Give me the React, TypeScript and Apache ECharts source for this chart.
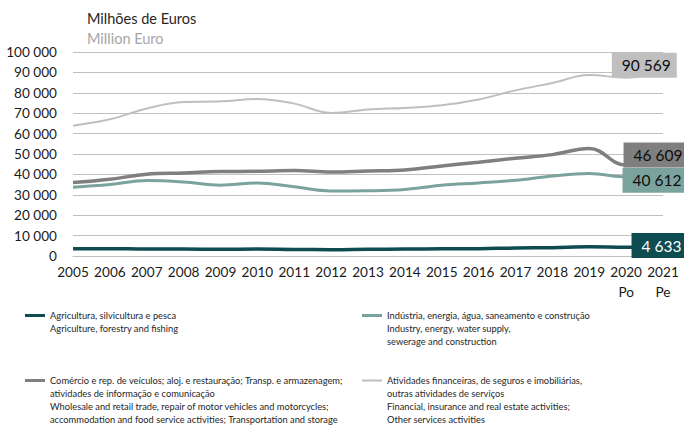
import React, { useEffect, useRef } from "react";
import * as echarts from "echarts";

const years = ["2005", "2006", "2007", "2008", "2009", "2010", "2011", "2012", "2013", "2014", "2015", "2016", "2017", "2018", "2019", "2020", "2021"];
const agriculture = [3500, 3600, 3400, 3400, 3300, 3400, 3200, 3100, 3300, 3400, 3500, 3600, 3900, 4100, 4500, 4300, 4633];
const industry = [33700, 35000, 37000, 36300, 34700, 35800, 33900, 31900, 32000, 32600, 34700, 35800, 37100, 39200, 40400, 38800, 40612];
const trade = [36000, 37600, 40100, 40700, 41400, 41500, 41900, 41200, 41700, 42200, 44100, 46000, 47900, 49700, 52700, 44500, 46609];
const financial = [63900, 67000, 72300, 75500, 75800, 77000, 74700, 70100, 71800, 72600, 73900, 76700, 81200, 84800, 88700, 87400, 90569];

const seriesNames = [
  "Agricultura, silvicultura e pesca",
  "Indústria, energia, água, saneamento e construção",
  "Comércio e rep. de veículos; aloj. e restauração; Transp. e armazenagem;",
  "Atividades financeiras, de seguros e imobiliárias,",
];
const legendTexts = [
  "Agricultura, silvicultura e pesca\nAgriculture, forestry and fishing",
  "Indústria, energia, água, saneamento e construção\nIndustry, energy, water supply,\nsewerage and construction",
  "Comércio e rep. de veículos; aloj. e restauração; Transp. e armazenagem;\natividades de informação e comunicação\nWholesale and retail trade, repair of motor vehicles and motorcycles;\naccommodation and food service activities; Transportation and storage",
  "Atividades financeiras, de seguros e imobiliárias,\noutras atividades de serviços\nFinancial, insurance and real estate activities;\nOther services activities",
];
const colors = ["#0f4c52", "#7ba39e", "#7f7f7f", "#bfbfbf"];
const titleText = "Milhões de Euros";
const subtitleText = "Million Euro";

const FONT = 'Lato, "Noto Sans", sans-serif';

const fmt = (v: number) => String(v).replace(/\B(?=(\d{3})+(?!\d))/g, " ");

function withLastLabel(values: number[], bg: string, textColor: string, offset: number[]) {
  return values.map((v, i) =>
    i === values.length - 1
      ? {
          value: v,
          symbol: "circle",
          symbolSize: 1,
          label: {
            show: true,
            position: "inside",
            offset,
            formatter: fmt(v),
            backgroundColor: bg,
            color: textColor,
            padding: [3, 6, 3, 10],
            fontSize: 15.5,
            lineHeight: 19,
            fontFamily: FONT,
          },
        }
      : v
  );
}

export default function App() {
  const ref = useRef<HTMLDivElement>(null);
  useEffect(() => {
    if (!ref.current) return;
    const chart = echarts.init(ref.current, undefined, { renderer: "svg" });
    const lh = 13;
    const lineCounts = legendTexts.map((t) => t.split("\n").length);
    const centers = [315.5, 315.5, 380.5, 380.5];
    const lefts = [25, 362, 25, 362];
    const legends = seriesNames.map((name, i) => ({
      data: [name],
      left: lefts[i],
      top: centers[i] - ((2 * lineCounts[i] - 1) * lh) / 2,
      padding: 0,
      orient: "horizontal",
      selectedMode: false,
      icon: "rect",
      itemWidth: 20,
      itemHeight: i === 3 ? 2 : 3,
      formatter: () => "\n".repeat(lineCounts[i] - 1) + legendTexts[i],
      textStyle: {
        fontFamily: FONT,
        fontSize: 9.3,
        lineHeight: lh,
        color: "#262626",
      },
    }));
    const option: any = {
      animation: false,
      title: [
        {
          text: titleText,
          left: 87,
          top: 9,
          padding: 0,
          textStyle: { fontFamily: FONT, fontSize: 14.5, fontWeight: "normal", color: "#262626", lineHeight: 18 },
        },
        {
          text: subtitleText,
          left: 87,
          top: 29,
          padding: 0,
          textStyle: { fontFamily: FONT, fontSize: 14.5, fontWeight: "normal", color: "#a6a6a6", lineHeight: 18 },
        },
      ],
      legend: legends,
      grid: { left: 73, right: 21, top: 52, bottom: 172, containLabel: false },
      xAxis: {
        type: "category",
        data: years,
        boundaryGap: false,
        axisTick: { show: false },
        axisLine: { show: true, lineStyle: { color: "#c0c0c0", width: 1 } },
        axisLabel: {
          interval: 0,
          margin: 8,
          formatter: (v: string) =>
            v === "2020" ? "{a|2020}\n{b|Po}" : v === "2021" ? "{a|2021}\n{b|Pe}" : "{a|" + v + "}",
          rich: {
            a: { fontFamily: FONT, fontSize: 13.6, lineHeight: 16, color: "#1a1a1a" },
            b: { fontFamily: FONT, fontSize: 13.6, lineHeight: 24, color: "#1a1a1a" },
          },
        },
      },
      yAxis: {
        type: "value",
        min: 0,
        max: 100000,
        interval: 10000,
        axisLine: { show: false },
        axisTick: { show: false },
        splitLine: { lineStyle: { color: "#c0c0c0", width: 1 } },
        axisLabel: {
          margin: 16,
          fontFamily: FONT,
          fontSize: 13.6,
          color: "#1a1a1a",
          formatter: (v: number) => fmt(v),
        },
      },
      series: [
        {
          name: seriesNames[0],
          type: "line",
          smooth: 0.4,
          symbol: "none",
          showSymbol: true,
          color: colors[0],
          lineStyle: { width: 3.5, color: colors[0] },
          data: withLastLabel(agriculture, colors[0], "#ffffff", [-3.5, -1]),
        },
        {
          name: seriesNames[1],
          type: "line",
          smooth: 0.4,
          symbol: "none",
          showSymbol: true,
          color: colors[1],
          lineStyle: { width: 3, color: colors[1] },
          data: withLastLabel(industry, colors[1], "#0d0d0d", [-8, 7]),
        },
        {
          name: seriesNames[2],
          type: "line",
          smooth: 0.4,
          symbol: "none",
          showSymbol: true,
          color: colors[2],
          lineStyle: { width: 3.5, color: colors[2] },
          data: withLastLabel(trade, colors[2], "#0d0d0d", [-7, -6]),
        },
        {
          name: seriesNames[3],
          type: "line",
          smooth: 0.4,
          symbol: "none",
          showSymbol: true,
          color: colors[3],
          lineStyle: { width: 2, color: colors[3] },
          data: withLastLabel(financial, colors[3], "#0d0d0d", [-18.7, -6]),
        },
      ],
    };
    chart.setOption(option);
    return () => chart.dispose();
  }, []);
  return (
    <div
      ref={ref}
      style={{ position: "fixed", left: 0, top: 0, width: 684, height: 428, background: "#ffffff" }}
    />
  );
}
